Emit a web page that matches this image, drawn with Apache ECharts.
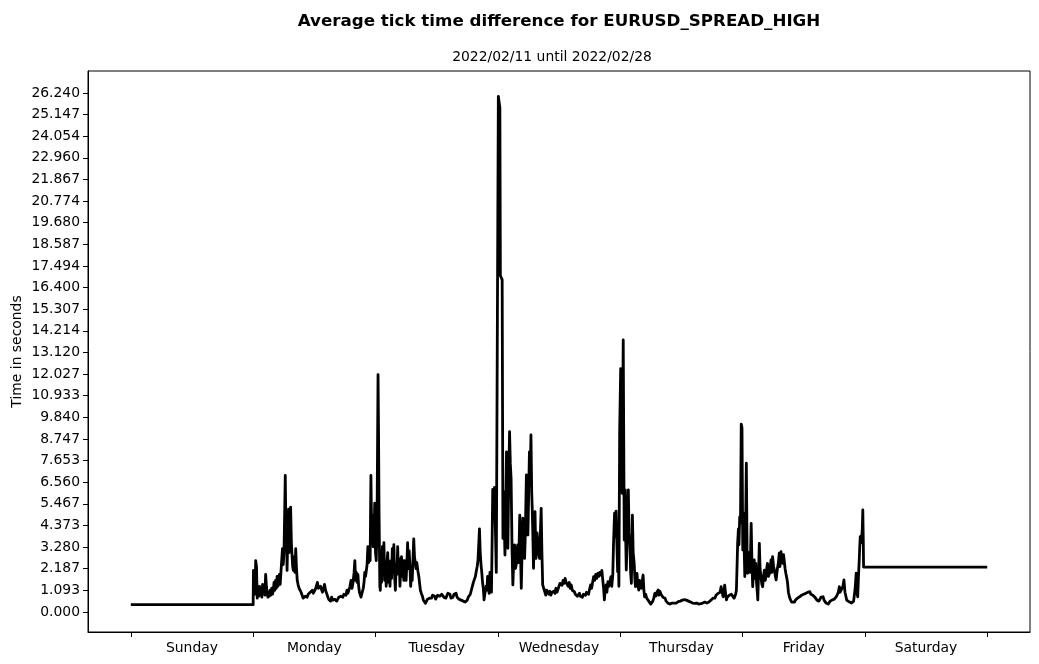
<!DOCTYPE html>
<html>
<head>
<meta charset="utf-8">
<script src="https://cdn.jsdelivr.net/npm/echarts@6/dist/echarts.min.js"></script>
<style>html,body{margin:0;padding:0;background:#fff;}#c{width:1039px;height:664px;}</style>
</head>
<body>
<div id="c"></div>
<script>
const titleText = 'Average tick time difference for EURUSD_SPREAD_HIGH';
const subtitleText = '2022/02/11 until 2022/02/28';
const yAxisName = 'Time in seconds';
const dayNames = ['Sunday','Monday','Tuesday','Wednesday','Thursday','Friday','Saturday'];
const yTickLabels = ['0.000','1.093','2.187','3.280','4.373','5.467','6.560','7.653','8.747','9.840','10.933','12.027','13.120','14.214','15.307','16.400','17.494','18.587','19.680','20.774','21.867','22.960','24.054','25.147','26.240'];
// hours since start of week (Sunday 00:00) and averaged tick gap in seconds
const hours = [0,24.0,
24.05,24.2,24.35,24.5,24.65,24.8,24.95,25.1,25.25,25.4,25.55,25.7,25.85,26.0,26.15,26.3,26.45,26.6,26.75,26.9,27.05,27.2,27.35,27.5,27.65,27.8,27.95,28.1,28.25,28.4,28.55,28.7,28.85,29.0,29.15,29.3,29.45,29.6,29.75,29.9,30.05,30.3,30.45,30.55,30.65,30.8,30.95,31.05,31.2,31.35,31.5,31.6,31.75,31.9,32.05,32.2,32.35,32.5,32.65,32.8,33.0,33.2,33.4,33.6,33.8,34.0,34.2,34.4,34.6,34.8,35.0,35.2,35.4,35.6,35.8,36.0,36.2,36.4,36.6,36.8,37.0,37.2,37.4,37.6,37.8,38.0,38.2,38.4,38.6,38.8,39.0,39.2,39.4,39.6,39.8,40.0,40.2,40.4,40.6,40.8,41.0,41.2,41.4,41.6,41.8,42.0,42.2,42.4,42.6,42.8,43.0,43.2,43.4,43.6,43.8,43.95,44.1,44.25,44.4,44.55,44.7,44.85,45.0,45.15,45.3,45.45,45.6,45.75,45.9,46.05,46.2,46.35,46.5,46.65,46.8,46.95,47.1,47.25,47.4,47.55,47.7,47.85,48.0,48.15,48.3,48.5,48.6,48.7,48.85,
48.95,49.05,49.2,49.35,49.5,49.65,49.8,49.95,50.1,50.25,50.4,50.55,50.7,50.85,51.0,51.15,51.3,51.45,51.6,51.75,51.9,52.05,52.2,52.35,52.5,52.65,52.8,52.95,53.1,53.25,53.4,53.55,53.7,53.85,54.0,54.15,54.3,54.45,54.6,54.75,54.9,55.05,55.2,55.35,55.5,55.65,55.8,55.95,56.1,56.3,56.5,56.65,56.8,57.0,57.2,57.4,57.6,57.8,58.0,58.2,58.4,58.6,58.8,59.0,59.2,59.4,59.6,59.8,60.0,60.2,60.4,60.6,60.8,61.0,61.2,61.4,61.6,61.8,62.0,62.2,62.4,62.6,62.8,63.0,63.2,63.4,63.6,63.8,64.0,64.2,64.4,64.6,64.8,65.0,65.2,65.4,65.6,65.8,66.0,66.2,66.4,66.6,66.8,67.0,67.2,67.4,67.6,67.8,67.95,68.1,68.25,68.4,68.55,68.7,68.85,69.0,69.15,69.3,69.5,69.7,69.85,70.0,70.15,70.3,70.45,70.6,70.75,70.9,71.0,71.2,71.35,71.5,71.7,71.9,
72.1,72.4,72.5,72.85,73.0,73.1,73.2,73.3,73.4,73.55,73.7,73.85,73.97,74.1,74.3,74.45,74.6,74.8,74.95,75.1,75.3,75.45,75.6,75.75,75.9,76.1,76.3,76.45,76.6,76.75,76.9,77.1,77.25,77.4,77.6,77.75,77.9,78.05,78.2,78.35,78.5,78.65,78.75,78.9,79.0,79.15,79.3,79.4,79.5,79.7,79.85,80.0,80.2,80.35,80.5,80.65,80.8,81.0,81.2,81.4,81.6,81.8,82.0,82.2,82.4,82.6,82.8,83.0,83.2,83.4,83.6,83.8,84.0,84.2,84.4,84.6,84.8,85.0,85.2,85.4,85.6,85.8,86.0,86.2,86.4,86.6,86.8,87.0,87.2,87.4,87.6,87.8,88.0,88.2,88.4,88.6,88.8,89.0,89.2,89.4,89.6,89.8,90.0,90.2,90.4,90.6,90.8,91.0,91.2,91.4,91.6,91.8,92.0,92.2,92.4,92.6,92.75,92.9,93.05,93.25,93.4,93.6,93.75,93.9,94.05,94.2,94.35,94.55,94.7,94.9,95.05,95.2,95.35,95.5,95.6,95.75,
95.9,96.1,96.25,96.4,96.6,96.8,96.9,97.0,97.1,97.2,97.4,97.6,97.75,97.9,98.05,98.2,98.3,98.4,98.55,98.75,98.9,99.0,99.15,99.3,99.45,99.65,99.8,100.0,100.15,100.3,100.5,100.65,100.8,101.0,101.2,101.4,101.6,101.8,102.0,102.2,102.4,102.6,102.8,103.0,103.2,103.45,103.6,103.8,104.0,104.2,104.4,104.6,104.8,105.0,105.2,105.4,105.6,105.8,106.0,106.2,106.4,106.6,106.8,107.0,107.2,107.4,107.6,107.8,108.0,108.2,108.4,108.6,108.8,109.0,109.2,109.4,109.6,109.8,110.0,110.2,110.4,110.6,110.8,111.0,111.2,111.4,111.6,111.8,112.0,112.2,112.4,112.6,112.8,113.0,113.2,113.4,113.6,113.8,114.0,114.2,114.4,114.6,114.8,115.0,115.2,115.4,115.6,115.8,116.0,116.2,116.35,116.5,116.7,116.85,117.0,117.2,117.4,117.6,117.8,118.0,118.15,118.35,118.5,118.65,118.8,
118.95,119.05,119.2,119.3,119.45,119.6,119.75,119.9,120.05,120.15,120.25,120.35,120.45,120.6,120.75,120.9,121.0,121.2,121.35,121.5,121.7,121.85,122.0,122.15,122.3,122.45,122.6,122.75,122.9,123.0,123.15,123.3,123.45,123.6,123.8,123.96,124.1,124.3,124.45,124.6,124.75,124.9,125.1,125.3,125.45,125.6,125.75,125.9,126.1,126.25,126.45,126.6,126.75,126.9,127.05,127.2,127.35,127.55,127.7,127.9,128.05,128.2,128.35,128.5,128.7,128.85,129.0,129.2,129.35,129.5,129.65,129.8,130.0,130.2,130.4,130.6,130.8,131.0,131.2,131.4,131.6,131.8,132.0,132.2,132.4,132.6,132.8,133.0,133.2,133.4,133.6,133.8,134.0,134.2,134.4,134.6,134.8,135.0,135.2,135.4,135.6,135.8,136.0,136.2,136.4,136.6,136.8,137.0,137.2,137.4,137.6,137.8,138.0,138.2,138.4,138.6,138.8,139.0,139.15,139.3,139.5,139.7,139.9,140.1,140.3,140.45,140.6,140.8,141.0,141.2,141.4,141.6,141.8,141.9,142.1,142.3,142.45,142.6,142.75,142.9,143.0,143.1,143.3,143.5,143.6,143.7,143.75,144.0,168.0];
const seconds = [0.37,0.37,
2.1,1.4,0.9,2.6,2.3,0.7,1.1,0.8,1.3,0.9,1.1,0.75,1.4,1.0,1.2,0.85,1.9,1.3,1.0,0.75,1.0,0.8,1.1,0.85,1.2,0.9,1.1,1.5,1.1,1.6,1.2,1.8,1.3,1.6,1.9,1.4,2.0,2.6,3.2,2.4,3.0,6.9,3.6,4.6,2.1,3.9,5.2,3.0,4.4,5.3,3.5,3.0,2.3,2.1,2.8,2.0,3.2,2.2,1.6,1.4,1.2,1.3,1.0,0.9,0.7,0.6,0.8,0.9,0.75,0.9,0.8,1.0,0.9,1.1,0.95,1.0,1.15,1.3,1.5,1.2,1.1,1.3,1.15,1.0,1.2,1.4,1.1,0.95,0.8,0.65,0.7,0.55,0.75,0.6,0.5,0.65,0.7,0.55,0.6,0.75,0.65,0.8,0.7,0.75,0.9,0.8,0.85,1.1,0.95,1.05,1.3,1.6,1.2,1.5,2.0,2.6,1.6,2.0,1.5,1.9,1.3,1.0,0.9,0.75,0.65,0.8,1.2,1.5,2.0,1.8,2.1,2.4,3.3,2.5,2.8,2.6,6.9,4.0,4.9,3.3,3.8,5.5,3.0,2.6,4.5,12.0,9.0,5.0,1.3,
1.1,2.4,1.5,3.3,2.0,3.5,1.6,2.3,1.3,2.5,3.0,1.5,2.2,1.3,2.6,1.7,3.2,2.2,3.4,1.8,1.1,2.4,1.9,3.3,2.0,2.7,1.3,2.2,2.8,1.8,2.6,1.6,2.6,2.0,1.6,2.4,3.5,2.2,3.1,2.4,1.3,1.9,1.6,2.6,3.7,2.8,2.5,2.2,2.5,2.1,1.8,1.45,1.1,0.94,0.8,0.6,0.55,0.44,0.5,0.65,0.6,0.7,0.8,0.7,0.85,0.75,0.8,0.65,0.7,0.85,0.75,0.8,0.7,0.9,0.95,0.75,0.85,0.7,0.8,0.95,0.85,0.9,0.7,0.8,0.75,0.9,0.8,0.95,0.75,0.8,0.65,0.7,0.6,0.65,0.55,0.6,0.5,0.45,0.6,0.75,0.85,0.9,1.1,1.3,1.5,1.4,1.8,2.1,2.3,2.6,2.5,4.2,3.0,2.4,2.0,1.5,1.2,0.61,1.0,1.3,1.1,1.8,1.2,0.94,2.0,1.5,1.0,4.0,6.2,5.8,6.3,4.5,2.0,2.0,
26.06,25.5,17.0,16.8,3.72,5.5,6.08,4.0,2.88,5.0,8.1,5.6,3.22,6.0,9.12,7.5,6.76,3.0,1.37,2.5,3.39,2.2,2.38,3.0,3.39,2.5,4.9,3.0,1.2,3.0,4.74,3.5,2.71,4.0,6.93,5.0,3.89,6.0,8.1,7.0,8.95,6.0,5.24,3.5,2.21,4.0,5.07,3.5,2.71,4.0,4.06,3.0,2.71,4.0,5.24,3.0,1.37,1.2,1.03,0.85,1.1,1.2,0.9,1.05,0.85,1.0,0.9,1.05,0.94,1.2,1.0,1.1,1.3,1.45,1.53,1.35,1.6,1.45,1.7,1.5,1.45,1.3,1.5,1.2,1.37,1.1,1.2,1.03,0.9,1.0,0.8,0.86,0.95,0.8,0.86,0.75,0.9,0.94,0.85,1.0,1.03,0.9,1.15,1.37,1.2,1.5,1.79,1.6,1.9,1.7,1.95,1.8,2.0,1.87,2.1,2.12,1.2,0.61,1.1,1.37,1.0,1.53,1.3,1.2,1.6,1.79,1.3,1.87,3.5,5.0,3.8,5.1,3.5,2.04,3.8,1.3,
9.1,12.3,12.2,6.0,13.75,3.64,5.0,6.17,3.5,2.12,4.0,6.17,4.0,3.47,2.0,1.45,3.0,4.9,3.0,2.46,1.6,1.28,1.8,1.95,1.4,1.11,1.6,1.62,1.2,1.5,1.87,1.1,0.77,0.9,0.7,0.75,0.55,0.5,0.4,0.35,0.55,0.7,0.94,0.8,1.0,1.11,0.85,1.05,0.9,0.94,0.75,0.85,0.7,0.55,0.5,0.44,0.5,0.4,0.35,0.45,0.4,0.45,0.5,0.45,0.55,0.52,0.6,0.55,0.65,0.6,0.7,0.62,0.69,0.6,0.65,0.55,0.6,0.5,0.55,0.45,0.5,0.44,0.4,0.45,0.35,0.4,0.35,0.42,0.35,0.45,0.4,0.5,0.4,0.45,0.35,0.5,0.55,0.6,0.55,0.7,0.77,0.7,0.85,0.8,0.94,0.85,1.0,1.28,1.0,0.77,1.0,1.36,0.9,0.61,0.75,0.7,0.85,0.75,0.9,0.8,0.94,0.7,0.77,0.9,1.1,
2.5,3.5,4.2,3.4,4.8,4.5,9.5,9.3,3.13,4.5,5.0,3.0,1.79,4.0,7.52,3.0,1.96,3.0,2.8,2.0,4.48,2.5,1.28,2.0,2.63,1.7,2.46,1.5,1.0,0.61,2.0,3.47,2.2,1.79,1.4,1.28,1.8,2.12,1.6,1.79,2.2,2.46,1.8,1.96,2.3,2.63,2.0,2.8,2.3,2.12,1.8,1.62,2.0,2.29,2.5,2.97,2.3,3.05,2.6,2.46,2.9,2.8,2.2,1.96,1.7,1.45,1.0,0.77,0.65,0.61,0.5,0.44,0.55,0.5,0.61,0.65,0.7,0.65,0.77,0.75,0.85,0.8,0.9,0.85,0.94,0.9,1.0,0.95,1.03,0.9,0.94,0.85,0.8,0.75,0.69,0.6,0.65,0.55,0.61,0.75,0.7,0.77,0.6,0.55,0.45,0.52,0.4,0.44,0.55,0.5,0.61,0.55,0.65,0.7,0.77,0.85,1.0,1.28,1.0,0.94,1.1,1.3,1.62,1.0,0.77,0.6,0.52,0.55,0.5,0.52,0.45,0.44,0.55,0.61,1.2,1.96,1.0,0.77,1.8,2.63,3.3,3.81,3.5,4.2,5.16,3.5,2.27,2.27,2.27];

const yTickValues = yTickLabels.map(parseFloat);
const xTickValues = [0,24,48,72,96,120,144,168];
const xLabelValues = dayNames.map((d,i)=>i*24+12);
const data = hours.map((h,i)=>[h, seconds[i]]);
const FONT = 'DejaVu Sans';

const chart = echarts.init(document.getElementById('c'), null, {renderer:'canvas'});
chart.setOption({
  animation: false,
  backgroundColor: '#ffffff',
  title: [
    {text: titleText, left: 554, top: 8, textAlign: 'center',
     textStyle: {fontFamily: FONT, fontSize: 16.7, fontWeight: 'bold', color: '#000'}},
    {text: subtitleText, left: 547, top: 45, textAlign: 'center',
     textStyle: {fontFamily: FONT, fontSize: 13.9, fontWeight: 'normal', color: '#000'}}
  ],
  grid: {left: 88, right: 9, top: 71, bottom: 32, show: true, borderColor: '#000', borderWidth: 1, backgroundColor: 'transparent', containLabel: false, outerBoundsMode: 'none'},
  xAxis: {
    type: 'value', min: -8.4, max: 176.4,
    axisLine: {show: true, onZero: false, lineStyle: {color: '#000', width: 1}},
    splitLine: {show: false},
    axisTick: {show: true, length: 5, lineStyle: {color: '#000'}, customValues: xTickValues},
    axisLabel: {show: true, customValues: xLabelValues, margin: 9, color: '#000', fontFamily: FONT, fontSize: 13.9,
      formatter: v => dayNames[Math.round((v-12)/24)]}
  },
  yAxis: {
    type: 'value', min: -1.011, max: 27.35,
    name: yAxisName, nameLocation: 'middle', nameGap: 64, nameRotate: 90, nameMoveOverlap: false,
    nameTextStyle: {fontFamily: FONT, fontSize: 13.9, color: '#000'},
    axisLine: {show: true, onZero: false, lineStyle: {color: '#000', width: 1}},
    splitLine: {show: false},
    axisTick: {show: true, length: 5, lineStyle: {color: '#000'}, customValues: yTickValues},
    axisLabel: {show: true, customValues: yTickValues, margin: 8, color: '#000', fontFamily: FONT, fontSize: 13.9,
      formatter: v => { let best = 0; yTickValues.forEach((t,i)=>{ if (Math.abs(t-v) < Math.abs(yTickValues[best]-v)) best = i; }); return yTickLabels[best]; }}
  },
  series: [{
    type: 'line', data: data, showSymbol: false, symbol: 'none',
    lineStyle: {color: '#000', width: 2.8, join: 'round'}, clip: true
  }]
});
</script>
</body>
</html>
